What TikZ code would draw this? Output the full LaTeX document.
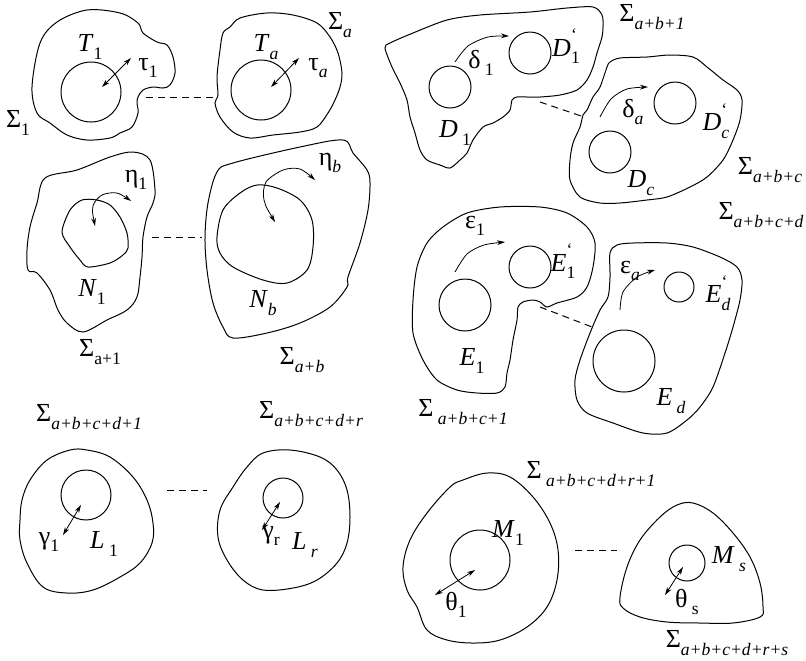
\documentclass[tikz,border=0pt]{standalone}
\usepackage{fontspec}
\setmainfont{Liberation Serif}
\usetikzlibrary{arrows.meta}
\newcommand\lo[1]{\raisebox{-0.6ex}{\fontsize{8.8}{10}\selectfont #1}}
\newcommand\loit[1]{\lo{\itshape #1}}
\newcommand\acc[1]{\rlap{\raisebox{1.3ex}{\fontsize{8.8}{10}\selectfont\symbol{96}}}\lo{#1}}

\begin{document}
\begin{tikzpicture}[x=0.5pt, y=-0.5pt, font=\fontsize{13}{15}\selectfont,
  region/.style={draw, line width=0.5pt},
  hole/.style={draw, circle, inner sep=0pt, line width=0.5pt},
  link/.style={dash pattern=on 3.5pt off 2.5pt, line width=0.5pt},
  twin/.style={{Stealth[length=4pt,width=2.4pt]}-{Stealth[length=4pt,width=2.4pt]}, line width=0.4pt},
  turn/.style={-{Stealth[length=4pt,width=2.4pt]}, line width=0.4pt}]
\useasboundingbox (0,0) rectangle (806,660);

% tori T
\draw[region] plot[smooth cycle, tension=0.55] coordinates {(32,87) (40,43) (57,22) (87,10) (120,13) (138,23) (143,33) (157,42) (167,45) (173,57) (175,73) (170,85) (163,88) (153,87) (143,90) (138,97) (137,103) (138,113) (132,127) (120,133) (110,138) (87,140) (67,135) (50,123) (37,113)};
\draw[region] plot[smooth cycle, tension=0.55] coordinates {(218,95) (217,77) (220,50) (223,33) (230,27) (240,18) (267,13) (293,15) (317,23) (330,37) (338,53) (342,73) (340,87) (335,100) (328,113) (317,127) (300,132) (273,135) (250,138) (233,132) (220,117) (215,103)};
\node[hole, minimum size=30pt] (t1) at (91,92) {};
\node[hole, minimum size=30pt] (ta) at (261,90) {};
\draw[twin] (102,87) -- (131,58);
\draw[twin] (271,87) -- (299,58);
\coordinate (g1) at (146,97); \coordinate (g2) at (213,97);
\draw[link] (g1) -- (g2);
\node (s1) at (18,123) {Σ\lo{1}};
\node (lt1) at (90,47) {\textit{T}\lo{1}};
\node (ltau1) at (148,68) {τ\lo{1}};
\node (lta) at (266,47) {\textit{T}\loit{a}};
\node (ltaua) at (318,68) {τ\loit{a}};
\node (sa) at (340,25) {Σ\loit{a}};

% regions N
\draw[region] plot[smooth cycle, tension=0.55] coordinates {(45,178) (77,170) (110,157) (133,152) (150,160) (155,190) (153,203) (147,217) (143,237) (142,257) (140,277) (137,297) (127,310) (107,320) (83,332) (67,323) (58,310) (50,290) (37,273) (28,270) (27,250) (30,227) (37,203)};
\draw[region] plot[smooth cycle, tension=0.5] coordinates {(62,232) (70,210) (82,200) (97,200) (110,205) (120,217) (127,233) (128,248) (123,255) (110,263) (88,267) (80,260) (70,247)};
\draw[twin] plot[smooth] coordinates {(95,226) (93,206) (102,195) (117,193) (131,201)};
\draw[region] plot[smooth cycle, tension=0.55] coordinates {(217,172) (233,163) (300,147) (343,140) (353,153) (367,170) (370,183) (368,210) (360,243) (348,277) (347,287) (330,307) (300,323) (267,333) (233,338) (223,327) (213,303) (207,270) (205,237) (208,203)};
\draw[region] plot[smooth cycle, tension=0.55] coordinates {(217,237) (223,210) (240,193) (257,185) (277,188) (300,200) (312,220) (313,247) (307,270) (287,283) (263,280) (233,267) (220,253)};
\draw[twin] plot[smooth] coordinates {(275,222) (264,200) (266,182) (283,170) (300,169) (315,180)};
\coordinate (g3) at (152,237); \coordinate (g4) at (202,237);
\draw[link] (g3) -- (g4);
\node (leta1) at (136,180) {η\lo{1}};
\node (letab) at (330,163) {η\loit{b}};
\node (ln1) at (92,292) {\textit{N}\lo{1}};
\node (lnb) at (263,303) {\textit{N}\loit{b}};
\node (sa1) at (100,352) {Σ\lo{a+1}};
\node (sab) at (302,360) {Σ\loit{a+b}};

% regions D
\draw[region] plot[smooth cycle, tension=0.5] coordinates {(385,48) (390,43) (413,33) (447,20) (480,15) (530,12) (567,8) (593,7) (602,15) (603,27) (602,37) (597,53) (593,67) (587,80) (577,90) (560,95) (540,97) (527,97) (517,97) (512,100) (510,110) (503,117) (493,123) (483,127) (473,140) (467,153) (460,160) (450,168) (440,165) (427,160) (420,150) (415,133) (410,117) (407,100) (400,83) (392,67)};
\node[hole, minimum size=21pt] (d1) at (450,87) {};
\node[hole, minimum size=21pt] (d1p) at (530,53) {};
\draw[turn] plot[smooth] coordinates {(455,62) (468,46) (488,37) (509,36)};
\draw[region] plot[smooth cycle, tension=0.5] coordinates {(583,115) (587,110) (593,97) (600,87) (607,67) (610,62) (620,58) (647,57) (670,55) (693,57) (707,67) (723,80) (737,90) (742,100) (740,120) (733,140) (723,160) (707,177) (690,187) (667,197) (647,200) (620,203) (600,203) (580,197) (570,180) (570,160) (573,143) (580,127)};
\node[hole, minimum size=21pt] (dcp) at (675,103) {};
\node[hole, minimum size=21pt] (dc) at (610,152) {};
\draw[turn] plot[smooth] coordinates {(600,117) (611,99) (627,89) (648,87)};
\coordinate (g5) at (540,102); \coordinate (g6) at (584,117);
\draw[link] (g5) -- (g6);
\node (ld1) at (455,133) {\textit{D}\,\lo{1}};
\node (ld1p) at (566,46) {\textit{D}\acc{1}};
\node (ldelta1) at (481,63) {δ\,\lo{1}};
\node (ldeltaa) at (633,112) {δ\loit{a}};
\node (ldc) at (641,183) {\textit{D}\loit{c}};
\node (ldcp) at (716,121) {\textit{D}\acc{\itshape c}};
\node (sab1) at (652,17) {Σ\loit{a+b+1}};
\node (sabc) at (770,170) {Σ\loit{a+b+c}};

% regions E
\draw[region] plot[smooth cycle, tension=0.5] coordinates {(413,300) (417,267) (427,243) (443,227) (467,213) (500,207) (540,207) (567,213) (587,227) (595,243) (593,267) (587,287) (577,297) (557,303) (547,307) (540,302) (533,300) (523,302) (518,307) (517,320) (513,340) (510,360) (507,373) (505,387) (497,393) (477,393) (457,390) (437,380) (423,360) (413,333)};
\node[hole, minimum size=26pt] (e1) at (465,305) {};
\node[hole, minimum size=21pt] (e1p) at (530,267) {};
\draw[turn] plot[smooth] coordinates {(455,272) (467,254) (484,245) (505,242)};
\draw[region] plot[smooth cycle, tension=0.5] coordinates {(610,253) (617,245) (633,243) (667,243) (693,247) (720,257) (737,267) (742,280) (740,300) (733,327) (725,353) (713,387) (700,407) (687,420) (667,433) (643,433) (613,423) (587,413) (577,400) (575,380) (580,360) (590,333) (600,310) (608,297) (610,277)};
\node[hole, minimum size=15pt] (edp) at (679,287) {};
\node[hole, minimum size=31pt] (ed) at (624,361) {};
\draw[turn] plot[smooth] coordinates {(620,310) (623,292) (637,277) (655,270)};
\coordinate (g7) at (540,307); \coordinate (g8) at (592,327);
\draw[link] (g7) -- (g8);
\node (leps1) at (475,226) {ε\lo{1}};
\node (le1p) at (563,261) {\textit{E}\acc{1}};
\node (le1) at (472,361) {\textit{E}\lo{1}};
\node (lepsa) at (630,271) {ε\loit{a}};
\node (ledp) at (718,293) {\textit{E}\acc{\itshape d}};
\node (led) at (671,401) {\textit{E}\,\loit{d}};
\node (sabc1) at (463,412) {Σ\,\loit{a+b+c+1}};
\node (sabcd) at (761,215) {Σ\loit{a+b+c+d}};

% regions L
\draw[region] plot[smooth cycle, tension=0.6] coordinates {(20,520) (22,500) (30,480) (47,460) (70,450) (87,450) (110,457) (133,477) (147,500) (153,523) (152,543) (140,563) (120,577) (93,590) (67,593) (43,587) (27,563) (20,540)};
\node[hole, minimum size=25pt] (l1) at (86,495) {};
\draw[twin] (63,535) -- (81,505);
\draw[region] plot[smooth cycle, tension=0.6] coordinates {(233,487) (247,467) (263,453) (290,450) (320,457) (337,470) (347,490) (350,517) (347,543) (337,563) (317,580) (293,588) (263,590) (243,580) (227,560) (218,537) (220,510)};
\node[hole, minimum size=20pt] (lr) at (283,498) {};
\draw[twin] (262,530) -- (280,502);
\coordinate (g9) at (167,490); \coordinate (g10) at (207,490);
\draw[link] (g9) -- (g10);
\node (lgam1) at (49,542) {γ\lo{1}};
\node (ll1) at (104,544) {\textit{L}\,\lo{1}};
\node (lgamr) at (271,536) {γ\lo{r}};
\node (llr) at (305,545) {\textit{L}\,\loit{r}};
\node (sabcd1) at (89,417) {Σ\loit{a+b+c+d+1}};
\node (sabcdr) at (311,414) {Σ\loit{a+b+c+d+r}};

% regions M
\draw[region] plot[smooth cycle, tension=0.6] coordinates {(403,567) (410,540) (427,513) (450,487) (463,480) (487,473) (510,477) (533,497) (550,523) (558,550) (557,580) (547,607) (527,627) (500,640) (473,643) (447,640) (427,630) (417,607) (407,590)};
\node[hole, minimum size=30pt] (m1) at (480,560) {};
\draw[twin] (435,595) -- (475,570);
\draw[region] plot[smooth cycle, tension=0.6] coordinates {(620,597) (627,567) (640,540) (660,517) (677,505) (693,503) (713,513) (733,533) (750,557) (760,583) (763,607) (760,617) (733,623) (700,623) (667,622) (640,617) (623,608)};
\node[hole, minimum size=18pt] (ms) at (687,563) {};
\draw[twin] (665,595) -- (683,567);
\coordinate (g11) at (575,550); \coordinate (g12) at (617,550);
\draw[link] (g11) -- (g12);
\node (ltheta1) at (456,605) {θ\lo{1}};
\node (lm1) at (508,533) {\textit{M}\lo{1}};
\node (lthetas) at (687,602) {θ\,\lo{s}};
\node (lms) at (729,559) {\textit{M}\,\loit{s}};
\node (sabcdr1) at (591,474) {Σ\,\loit{a+b+c+d+r+1}};
\node (sabcdrs) at (727,643) {Σ\loit{a+b+c+d+r+s}};
\end{tikzpicture}
\end{document}
